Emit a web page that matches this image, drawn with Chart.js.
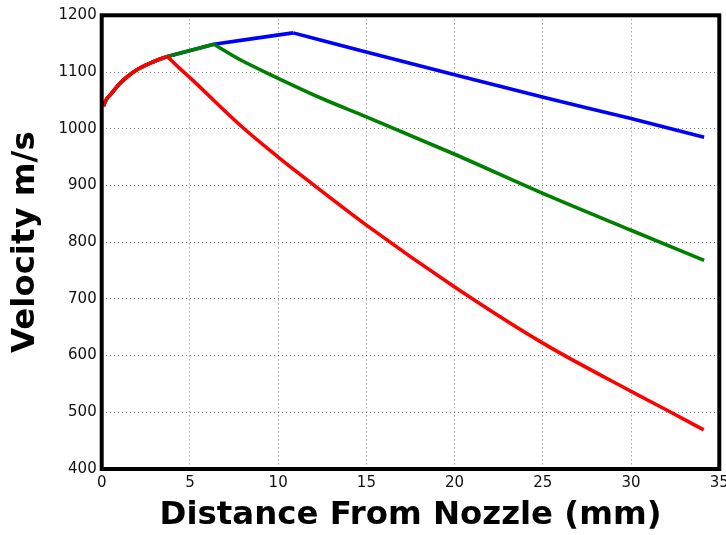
<!DOCTYPE html>
<html>
<head>
<meta charset="utf-8">
<script src="https://cdn.jsdelivr.net/npm/chart.js@4/dist/chart.umd.min.js"></script>
<style>
  html, body { margin: 0; padding: 0; background: #fff; }
  #wrap { width: 726px; height: 535px; position: relative; }
</style>
</head>
<body>
<div id="wrap"><canvas id="c" width="726" height="535"></canvas></div>
<script>
// ---- data ----
const xTicks = [0, 5, 10, 15, 20, 25, 30, 35];
const yTicks = [400, 500, 600, 700, 800, 900, 1000, 1100, 1200];

// red: rises, breaks at x = 3.72, then falls
const redX   = [0.1, 0.25, 0.5, 1.0, 1.5, 2.0, 2.5, 3.0, 3.72, 4.47, 5.0, 7.96, 10.0, 11.26, 15.0, 20.0, 25.0, 30.0, 32.2, 34.12];
const redV   = [1040, 1051, 1060, 1079, 1093, 1104, 1112, 1119, 1127.5, 1105, 1090, 1003, 950, 919, 830, 721, 622, 537, 501, 469];
const redBreaks = [3.72];

// green: same rise, continues to x = 6.36, then falls
const greenX = [0.1, 0.25, 0.5, 1.0, 1.5, 2.0, 2.5, 3.0, 3.72, 6.36, 7.77, 10.0, 12.58, 15.0, 20.0, 25.0, 30.0, 34.14];
const greenV = [1040, 1051, 1060, 1079, 1093, 1104, 1112, 1119, 1127.5, 1149, 1123, 1089, 1052, 1021, 955, 886, 821, 768];
const greenBreaks = [3.72, 6.36];

// blue: same rise, continues to x = 10.85, then falls
const blueX  = [0.1, 0.25, 0.5, 1.0, 1.5, 2.0, 2.5, 3.0, 3.72, 6.36, 10.85, 14.66, 20.0, 25.2, 30.0, 34.14];
const blueV  = [1040, 1051, 1060, 1079, 1093, 1104, 1112, 1119, 1127.5, 1149, 1169, 1138, 1095, 1054, 1018, 985];
const blueBreaks = [3.72, 6.36, 10.85];

const xTitle = 'Distance From Nozzle (mm)';
const yTitle = 'Velocity m/s';

// split a series into smooth pieces at its sharp corners
function pieces(xs, ys, breaks, color) {
  const out = [];
  let cur = [];
  xs.forEach((x, i) => {
    cur.push({ x: x, y: ys[i] });
    if (breaks.indexOf(x) >= 0) {
      out.push(cur);
      cur = [{ x: x, y: ys[i] }];
    }
  });
  if (cur.length > 1) out.push(cur);
  return out.map(d => ({
    data: d, borderColor: color, borderWidth: 3.6, pointRadius: 0,
    cubicInterpolationMode: 'monotone', fill: false
  }));
}

const framePlugin = {
  id: 'frame',
  afterDatasetsDraw(chart) {
    const a = chart.chartArea, ctx = chart.ctx;
    ctx.save();
    ctx.strokeStyle = '#000';
    ctx.lineWidth = 4;
    ctx.lineJoin = 'miter';
    ctx.strokeRect(a.left, a.top, a.right - a.left, a.bottom - a.top);
    ctx.restore();
  }
};

const tickFont = { family: 'DejaVu Sans', size: 15 };
const titleFont = { family: 'DejaVu Sans', size: 32.4, weight: 'bold', lineHeight: 1 };

new Chart(document.getElementById('c'), {
  type: 'line',
  data: {
    datasets: [].concat(
      pieces(redX, redV, redBreaks, '#ff0000'),
      pieces(greenX, greenV, greenBreaks, '#008000'),
      pieces(blueX, blueV, blueBreaks, '#0000ff')
    )
  },
  options: {
    responsive: false,
    animation: false,
    devicePixelRatio: 1,
    layout: { autoPadding: false, padding: { top: 15.3, right: 6.7, left: 0, bottom: 0 } },
    plugins: { legend: { display: false }, tooltip: { enabled: false } },
    scales: {
      x: {
        type: 'linear',
        min: xTicks[0], max: xTicks[xTicks.length - 1],
        afterBuildTicks(s) { s.ticks = xTicks.map(v => ({ value: v })); },
        afterFit(s) { s.height = 66; s.paddingLeft = 0; s.paddingRight = 0; },
        ticks: { font: tickFont, color: '#111', padding: 5, maxRotation: 0, autoSkip: false, callback: v => String(v) },
        grid: { color: 'rgba(0,0,0,0.5)', lineWidth: 1, drawTicks: false },
        border: { display: false, dash: [1, 3] },
        title: { display: true, text: xTitle, font: titleFont, color: '#000', padding: { top: 0, bottom: 3 } }
      },
      y: {
        type: 'linear',
        min: yTicks[0], max: yTicks[yTicks.length - 1],
        afterBuildTicks(s) { s.ticks = yTicks.map(v => ({ value: v })); },
        afterFit(s) { s.width = 101.7; s.paddingTop = 0; s.paddingBottom = 0; },
        ticks: { font: tickFont, color: '#111', padding: 5, autoSkip: false, callback: v => String(v) },
        grid: { color: 'rgba(0,0,0,0.5)', lineWidth: 1, drawTicks: false },
        border: { display: false, dash: [1, 3] },
        title: { display: true, text: yTitle, font: titleFont, color: '#000', padding: { top: 9.6, bottom: 0 } }
      }
    }
  },
  plugins: [framePlugin]
});
</script>
</body>
</html>
